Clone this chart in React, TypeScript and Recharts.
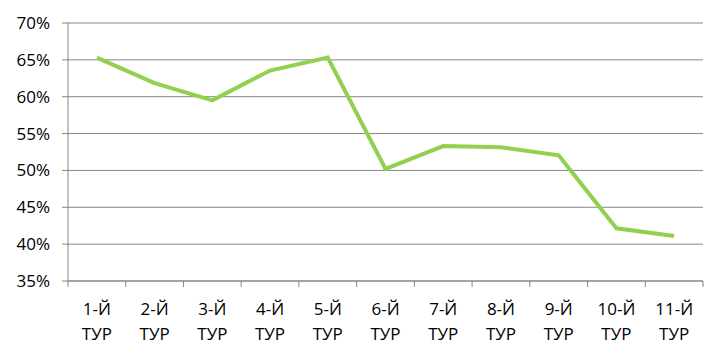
import React from "react";
import { LineChart, Line, XAxis, YAxis, CartesianGrid } from "recharts";

const categories = ["1-Й ТУР", "2-Й ТУР", "3-Й ТУР", "4-Й ТУР", "5-Й ТУР", "6-Й ТУР", "7-Й ТУР", "8-Й ТУР", "9-Й ТУР", "10-Й ТУР", "11-Й ТУР"];
const values = [65.3, 61.85, 59.5, 63.55, 65.3, 50.2, 53.3, 53.15, 52.05, 42.15, 41.1];
const yTicks = [35, 40, 45, 50, 55, 60, 65, 70];

const data = categories.map((name, i) => ({ name, value: values[i] }));

const GRAY = "#868686";
const FONT = "'Open Sans', sans-serif";

const XTick = (props: any) => {
  const { x, y, payload, index } = props;
  const off = payload?.offset ?? 0;
  const parts = String(payload.value).split(" ");
  const isLast = index === categories.length - 1;
  return (
    <g>
      <line x1={x - off} x2={x - off} y1={y} y2={y + 6} stroke={GRAY} strokeWidth={1} />
      {isLast && <line x1={x + off} x2={x + off} y1={y} y2={y + 6} stroke={GRAY} strokeWidth={1} />}
      <text x={x} y={y + 34} textAnchor="middle" fill="#000" fontSize={17} fontFamily={FONT}>{parts[0]}</text>
      <text x={x} y={y + 59} textAnchor="middle" fill="#000" fontSize={17} fontFamily={FONT}>{parts[1]}</text>
    </g>
  );
};

export default function App() {
  return (
    <div style={{ position: "absolute", left: 0, top: 0, width: 727, height: 359, background: "#fff" }}>
      <LineChart width={727} height={359} data={data} margin={{ top: 23, right: 24, bottom: 18, left: 0 }}>
        <CartesianGrid vertical={false} stroke={GRAY} strokeDasharray="" />
        <XAxis
          dataKey="name"
          scale="band"
          interval={0}
          height={60}
          tickLine={false}
          tickSize={0}
          tickMargin={0}
          axisLine={{ stroke: GRAY }}
          tick={<XTick />}
        />
        <YAxis
          width={68}
          domain={[35, 70]}
          ticks={yTicks}
          interval={0}
          tickFormatter={(v: number) => `${v}%`}
          tickSize={6}
          tickMargin={12}
          axisLine={{ stroke: GRAY }}
          tickLine={{ stroke: GRAY }}
          tick={{ fill: "#000", fontSize: 17, fontFamily: FONT }}
        />
        <Line type="linear" dataKey="value" stroke="#92D050" strokeWidth={4} dot={false} isAnimationActive={false} />
      </LineChart>
    </div>
  );
}
